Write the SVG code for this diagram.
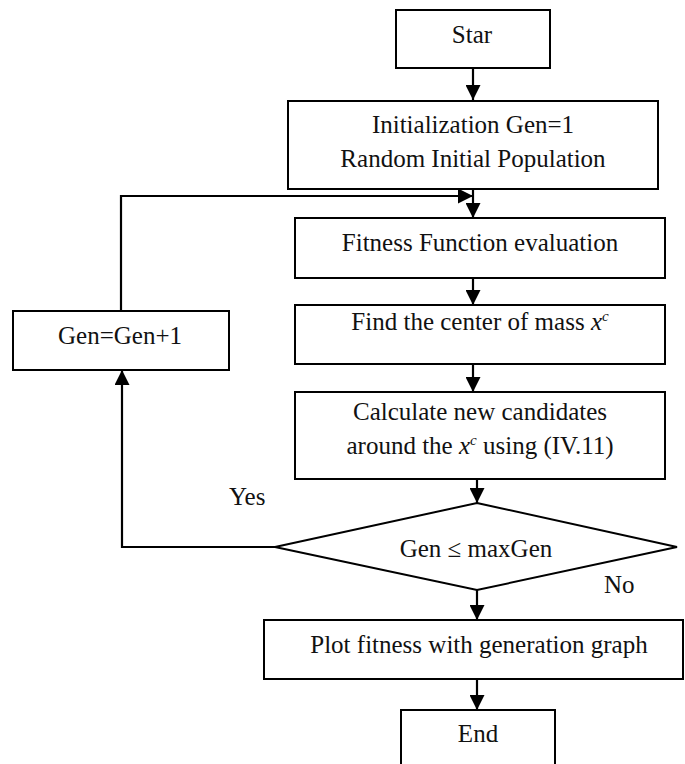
<svg xmlns="http://www.w3.org/2000/svg" width="685" height="764" viewBox="0 0 685 764">
  <style>
    .box { fill: #ffffff; stroke: #000000; stroke-width: 2; }
    .lbl { font-family: "Liberation Serif", "Times New Roman", serif; font-size: 25px; fill: #111111; text-anchor: middle; }
    .free { font-family: "Liberation Serif", "Times New Roman", serif; font-size: 25px; fill: #111111; }
    .wire { fill: none; stroke: #000000; stroke-width: 2.2; }
    .it { font-style: italic; }
  </style>
  <defs>
    <marker id="head" markerUnits="userSpaceOnUse" markerWidth="15" markerHeight="15" refX="15" refY="7.5" orient="auto">
      <path d="M0,0 L15,7.5 L0,15 z" fill="#000000"/>
    </marker>
  </defs>
  <rect width="685" height="764" fill="#ffffff"/>

  <!-- connectors -->
  <g id="connectors">
    <line class="wire" x1="473" y1="68" x2="473" y2="100" marker-end="url(#head)"/>
    <line class="wire" x1="473" y1="189" x2="473" y2="218" marker-end="url(#head)"/>
    <polyline class="wire" points="121,311 121,196 473,196" marker-end="url(#head)"/>
    <line class="wire" x1="473" y1="278" x2="473" y2="305" marker-end="url(#head)"/>
    <line class="wire" x1="473" y1="364" x2="473" y2="392" marker-end="url(#head)"/>
    <line class="wire" x1="477" y1="479" x2="477" y2="503" marker-end="url(#head)"/>
    <polyline class="wire" points="275,547 122,547 122,370" marker-end="url(#head)"/>
    <line class="wire" x1="477" y1="590" x2="477" y2="620" marker-end="url(#head)"/>
    <line class="wire" x1="477" y1="679" x2="477" y2="710" marker-end="url(#head)"/>
  </g>

  <!-- nodes -->
  <g id="start">
    <rect class="box" x="396" y="10" width="154" height="58"/>
    <text class="lbl" x="472" y="43">Star</text>
  </g>

  <g id="init">
    <rect class="box" x="288" y="101" width="370" height="88"/>
    <text class="lbl" x="473" y="133">Initialization Gen=1</text>
    <text class="lbl" x="473" y="167">Random Initial Population</text>
  </g>

  <g id="fitness">
    <rect class="box" x="295" y="218" width="370" height="60"/>
    <text class="lbl" x="480" y="251">Fitness Function evaluation</text>
  </g>

  <g id="center-of-mass">
    <rect class="box" x="295" y="305" width="370" height="59"/>
    <text class="lbl" x="480" y="330">Find the center of mass <tspan class="it">x</tspan><tspan class="it" font-size="15" dy="-9">c</tspan></text>
  </g>

  <g id="candidates">
    <rect class="box" x="295" y="392" width="370" height="87"/>
    <text class="lbl" x="480" y="420">Calculate new candidates</text>
    <text class="lbl" x="480" y="454">around the <tspan class="it">x</tspan><tspan class="it" font-size="15" dy="-9">c</tspan><tspan dy="9"> using (IV.11)</tspan></text>
  </g>

  <g id="decision">
    <polygon class="box" points="477,503 677,547 477,590 275,547"/>
    <text class="lbl" x="476" y="557">Gen ≤ maxGen</text>
  </g>

  <g id="increment">
    <rect class="box" x="13" y="311" width="216" height="59"/>
    <text class="lbl" x="120" y="344">Gen=Gen+1</text>
  </g>

  <g id="plot">
    <rect class="box" x="264" y="620" width="419" height="59"/>
    <text class="lbl" x="479" y="653">Plot fitness with generation graph</text>
  </g>

  <g id="end">
    <rect class="box" x="401" y="710" width="154" height="62"/>
    <text class="lbl" x="478" y="742">End</text>
  </g>

  <!-- branch labels -->
  <g id="branch-labels">
    <text class="free" x="229" y="505">Yes</text>
    <text class="free" x="604" y="593">No</text>
  </g>
</svg>
